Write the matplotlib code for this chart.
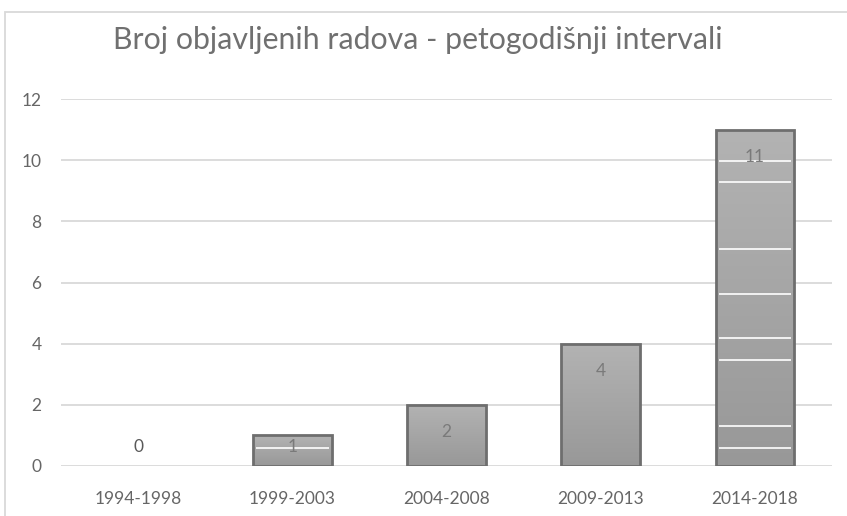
import numpy as np
import matplotlib.pyplot as plt
from matplotlib.patches import Rectangle
from matplotlib.colors import LinearSegmentedColormap

plt.rcParams['font.family'] = ['Lato', 'DejaVu Sans']

# podaci
intervals = ['1994-1998', '1999-2003', '2004-2008', '2009-2013', '2014-2018']
counts = [0, 1, 2, 4, 11]
# tanke bijele linije vidljive unutar stupaca (vrijednosti na osi y)
inner_lines = [[], [0.58], [], [], [0.58, 1.30, 3.48, 4.20, 5.64, 7.08, 9.27, 9.98]]
title = 'Broj objavljenih radova - petogodišnji intervali'

text_grey = '#595959'
grid_grey = '#d9d9d9'

fig = plt.figure(figsize=(8.47, 5.16), dpi=100)
fig.patches.append(Rectangle((5 / 847, -0.1), 1.0, 1 - 12 / 516 + 0.1, transform=fig.transFigure,
                             fill=False, edgecolor=grid_grey, linewidth=1.3))
ax = fig.add_axes([61 / 847, 50 / 516, 771 / 847, 367 / 516])

x = np.arange(len(intervals))
width = 0.51

cmap = LinearSegmentedColormap.from_list('g', ['#989898', '#b3b3b3'])
grad = np.linspace(0, 1, 256).reshape(-1, 1)
bars = ax.bar(x, counts, width, color='none', edgecolor='#6e6e6e', linewidth=2, zorder=3)
for b, v, lines in zip(bars, counts, inner_lines):
    if v == 0:
        b.set_linewidth(0)
        continue
    bx, by = b.get_x(), b.get_y()
    im = ax.imshow(grad, cmap=cmap, origin='lower', aspect='auto',
                   extent=(bx, bx + b.get_width(), by, by + b.get_height()), zorder=2)
    im.set_clip_path(b)
    ax.hlines(lines, bx + 0.02, bx + b.get_width() - 0.02, colors='white', linewidth=1.2, zorder=2.5)

ax.set_xlim(-0.5, len(intervals) - 0.5)
ax.set_ylim(0, 12)

for xi, v in zip(x, counts):
    if v >= 2:
        ax.annotate(str(v), (xi, v), xytext=(0, -19.5), textcoords='offset points',
                    ha='center', va='center', fontsize=12.5, color='#7a7a7a', zorder=4)
    elif v == 1:
        ax.annotate(str(v), (xi, v / 2), xytext=(0, 3), textcoords='offset points',
                    ha='center', va='center', fontsize=12.5, color='#7a7a7a', zorder=4)
    else:
        ax.annotate(str(v), (xi, v), xytext=(0, 14), textcoords='offset points',
                    ha='center', va='center', fontsize=12.5, color=text_grey, zorder=4)

ax.set_yticks(range(0, 13, 2))
ax.set_xticks(x)
ax.set_xticklabels(intervals)
ax.grid(axis='y', color=grid_grey, linewidth=1.3, zorder=0)
ax.set_axisbelow(True)
for s in ax.spines.values():
    s.set_visible(False)
ax.tick_params(length=0, colors='#666666', labelsize=12.5)
ax.tick_params(axis='y', pad=14)
ax.tick_params(axis='x', pad=18)

fig.text(418 / 847, 1 - 40 / 516, title, ha='center', va='center', fontsize=21.8, color='#707070')

fig.savefig('out.png', dpi=100)
